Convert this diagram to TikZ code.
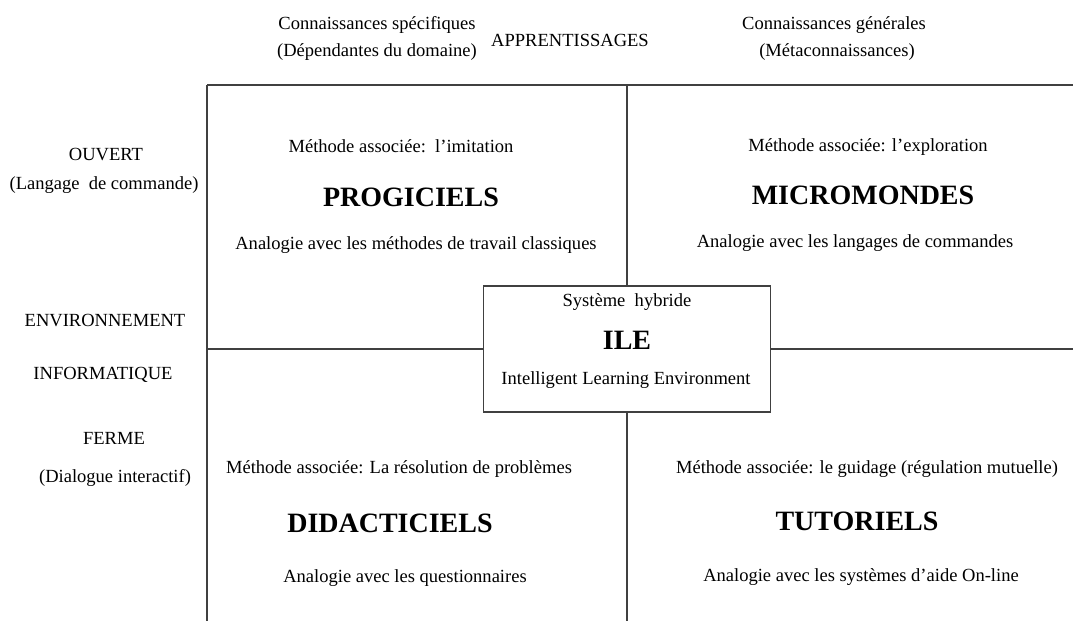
\documentclass[tikz,border=0pt]{standalone}
\usepackage{fontspec}
\setmainfont{Liberation Serif}
\usepackage{tikz}

\begin{document}
\begin{tikzpicture}[x = 0.75pt, y = -0.75pt,
		trait/.style = {draw = black!75, line width = 1.4pt},
		petit/.style = {font = \fontsize{13.9}{16}\selectfont, inner sep = 0pt},
		titre/.style = {font = \fontsize{21}{23}\selectfont\bfseries, inner sep = 0pt},
		cadre/.style = {trait, fill = white, minimum width = 287*0.75pt, minimum height = 126*0.75pt, inner sep = 0pt}]
	\useasboundingbox (0,0) rectangle (1073,621);

	% grille
	\coordinate (hautG) at (207,85);
	\coordinate (hautD) at (1073,85);
	\coordinate (basG) at (207,621);
	\coordinate (hautM) at (627,85);
	\coordinate (basM) at (627,621);
	\coordinate (milG) at (207,349);
	\coordinate (milD) at (1073,349);

	\node [cadre] (ile) at (627,349) {};

	\draw [trait] (hautG) -- (hautD);
	\draw [trait] (hautG) -- (basG);
	\draw [trait] (hautM) -- (ile.north);
	\draw [trait] (ile.south) -- (basM);
	\draw [trait] (milG) -- (ile.west);
	\draw [trait] (ile.east) -- (milD);

	% en-tete
	\node [petit] (specA) at (377,25) {Connaissances spécifiques};
	\node [petit] (specB) at (377,52) {(Dépendantes du domaine)};
	\node [petit] (appr) at (570,40) {APPRENTISSAGES};
	\node [petit] (genA) at (834,25) {Connaissances générales};
	\node [petit] (genB) at (837,52) {(Métaconnaissances)};

	% cote gauche
	\node [petit] (ouvert) at (106,155) {OUVERT};
	\node [petit] (langage) at (104,185) {(Langage\enspace de commande)};
	\node [petit] (envir) at (105,320) {ENVIRONNEMENT};
	\node [petit] (inform) at (103,375) {INFORMATIQUE};
	\node [petit] (ferme) at (114,438) {FERME};
	\node [petit] (dialogue) at (115,478) {(Dialogue interactif)};

	% quadrants
	\node [petit] (progM) at (401,146) {Méthode associée:\enspace l’imitation};
	\node [titre] (prog) at (411,197) {PROGICIELS};
	\node [petit] (progA) at (416,245) {Analogie avec les méthodes de travail classiques};

	\node [petit] (microM) at (868,147) {Méthode associée: l’exploration};
	\node [titre] (micro) at (863,195) {MICROMONDES};
	\node [petit] (microA) at (855,243) {Analogie avec les langages de commandes};

	\node [petit] (didaM) at (399,469) {Méthode associée: La résolution de problèmes};
	\node [titre] (dida) at (390,523) {DIDACTICIELS};
	\node [petit] (didaA) at (405,578) {Analogie avec les questionnaires};

	\node [petit] (tutoM) at (867,469) {Méthode associée: le guidage (régulation mutuelle)};
	\node [titre] (tuto) at (857,521) {TUTORIELS};
	\node [petit] (tutoA) at (861,577) {Analogie avec les systèmes d’aide On-line};

	% systeme hybride
	\node [petit] (hybride) at (627,302) {Système\enspace hybride};
	\node [titre] (ileT) at (627,340) {ILE};
	\node [petit] (ileA) at (626,380) {Intelligent Learning Environment};
\end{tikzpicture}
\end{document}
